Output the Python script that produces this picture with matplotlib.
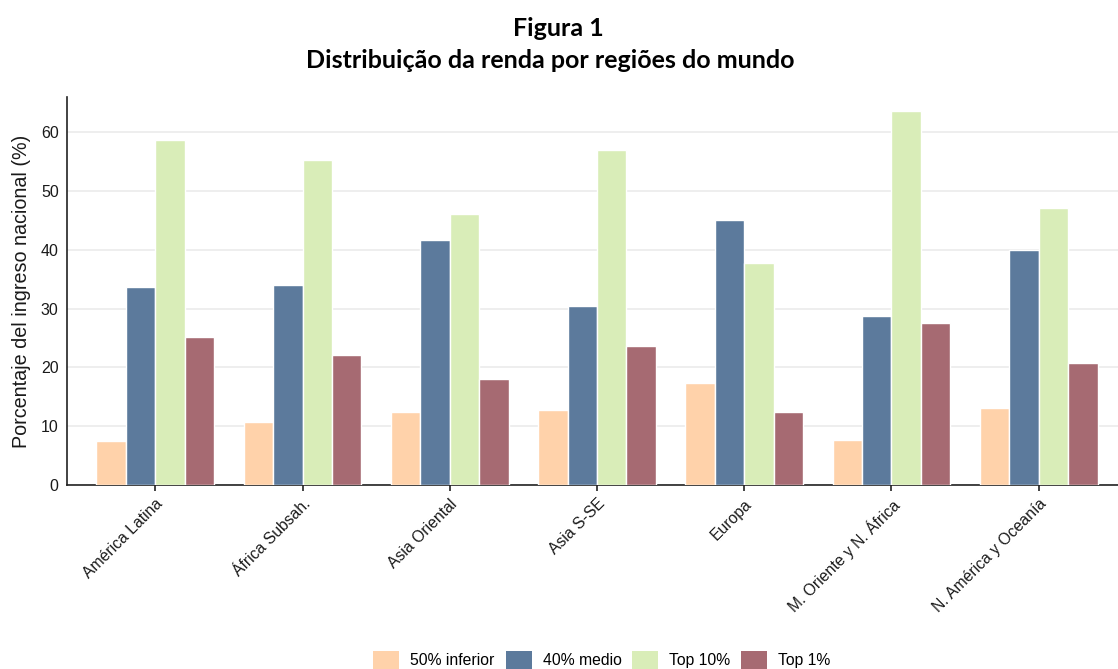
import numpy as np
import matplotlib.pyplot as plt
from matplotlib.patches import Patch

regions = ["América Latina", "África Subsah.", "Asia Oriental", "Asia S-SE",
           "Europa", "M. Oriente y N. África", "N. América y Oceanía"]
series = ["50% inferior", "40% medio", "Top 10%", "Top 1%"]
bottom50 = [7.5, 10.8, 12.4, 12.7, 17.3, 7.7, 13.1]
middle40 = [33.7, 34.0, 41.6, 30.4, 45.0, 28.7, 39.9]
top10 = [58.7, 55.3, 46.1, 57.0, 37.8, 63.6, 47.2]
top1 = [25.2, 22.1, 18.0, 23.7, 12.5, 27.5, 20.8]

colors = ["#FFD2AA", "#5C7A9C", "#D9EDB8", "#A66A72"]

W, H = 1118, 669
fig = plt.figure(figsize=(W / 100, H / 100), dpi=100)
ax = fig.add_axes([67 / W, 1 - 485 / H, (1127 - 67) / W, (485 - 97) / H])

x = np.arange(len(regions))
slot = 0.2
for i, vals in enumerate([bottom50, middle40, top10, top1]):
    ax.bar(x + (i - 1.5) * slot, vals, width=slot, color=colors[i],
           edgecolor="white", linewidth=1.0, zorder=3)

ax.set_xlim(-0.6, len(regions) - 0.4)
ax.set_ylim(0, 66)
ax.set_yticks([0, 10, 20, 30, 40, 50, 60])
ax.yaxis.grid(True, color="#EBEBEB", linewidth=1.2, zorder=0)
ax.set_axisbelow(True)
for s in ["top", "right"]:
    ax.spines[s].set_visible(False)
for s in ["left", "bottom"]:
    ax.spines[s].set_color("#222222")
    ax.spines[s].set_linewidth(1.2)

ax.set_xticks(x)
ax.set_xticklabels(regions, rotation=45, ha="right", rotation_mode="anchor",
                   fontsize=11.3, family="Liberation Sans", color="#1a1a1a")
ax.tick_params(axis="y", length=0, labelsize=11.5, labelcolor="#1a1a1a", pad=6)
ax.tick_params(axis="x", length=4, width=1.2, color="#222222", pad=4)
for t in ax.get_yticklabels():
    t.set_family("Liberation Sans")
ax.set_ylabel("Porcentaje del ingreso nacional (%)", fontsize=14.2,
              family="Liberation Sans", color="#1a1a1a", labelpad=7)

fig.text(558 / W, 1 - 28 / H, "Figura 1", ha="center", va="center",
         fontsize=18, fontweight="bold", family="Lato")
fig.text(550 / W, 1 - 60 / H, "Distribuição da renda por regiões do mundo",
         ha="center", va="center", fontsize=18, fontweight="bold", family="Lato")

handles = [Patch(facecolor=c, edgecolor="none") for c in colors]
fig.legend(handles, series, loc="center", bbox_to_anchor=(602 / W, 1 - 660 / H),
           ncol=4, frameon=False, handlelength=1.65, handleheight=1.4,
           columnspacing=0.7, handletextpad=0.7,
           prop={"family": "Liberation Sans", "size": 11.3})

fig.savefig("out.png", dpi=100)
